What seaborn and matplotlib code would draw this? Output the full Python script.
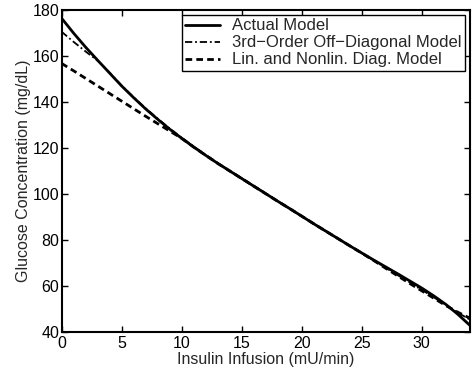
import numpy as np
import pandas as pd
import seaborn as sns
import matplotlib
matplotlib.use("Agg")
import matplotlib.pyplot as plt

# insulin infusion (mU/min)
x = [0, 1, 2, 3, 4, 5, 6, 7, 8, 9, 10, 11, 12, 13, 14, 15, 16, 17,
     18, 19, 20, 21, 22, 23, 24, 25, 26, 27, 28, 29, 30, 31, 32, 33, 34]

# glucose concentration (mg/dL)
actual = [176.5, 170.0, 163.9, 158.2, 152.6, 147.0, 141.9, 137.0, 132.5, 128.2,
          124.2, 120.4, 116.8, 113.3, 110.0, 106.7, 103.4, 100.1, 96.8, 93.6,
          90.3, 87.0, 83.8, 80.6, 77.4, 74.3, 71.2, 68.2, 65.2, 62.1,
          59.0, 55.6, 51.9, 47.6, 42.8]
offdiag = [170.6, 166.2, 162.0, 158.0, 152.8, 147.2, 142.1, 137.3, 132.8, 128.5,
           124.5, 120.7, 117.0, 113.5, 110.1, 106.8, 103.5, 100.2, 96.9, 93.6,
           90.3, 87.0, 83.8, 80.6, 77.4, 74.2, 71.0, 67.8, 64.6, 61.4,
           58.2, 55.0, 51.6, 48.3, 45.3]
diag = [156.8, 153.6, 150.3, 147.0, 143.7, 140.4, 137.1, 133.8, 130.6, 127.4,
        124.2, 120.4, 116.8, 113.3, 110.0, 106.7, 103.4, 100.1, 96.8, 93.6,
        90.3, 87.0, 83.8, 80.6, 77.4, 74.2, 71.0, 67.6, 64.3, 61.0,
        57.8, 54.6, 51.4, 48.5, 45.9]

labels = ["Actual Model", "3rd\u2212Order Off\u2212Diagonal Model", "Lin. and Nonlin. Diag. Model"]

sns.set_style("ticks")
plt.rcParams["font.family"] = ["Liberation Sans", "DejaVu Sans"]
plt.rcParams["font.size"] = 11.5

fig = plt.figure(figsize=(4.77, 3.74), dpi=100)
ax = fig.add_axes([0.129, 0.113, 0.856, 0.860])

styles = ["-", (0, (4, 1.6, 1, 1.6)), (0, (2.4, 1.5))]
widths = [2.0, 1.3, 2.0]
for ys, lab, ls, lw in zip([actual, offdiag, diag], labels, styles, widths):
    df = pd.DataFrame({"x": x, "y": ys})
    sns.lineplot(data=df, x="x", y="y", ax=ax, color="black", linestyle=ls,
                 linewidth=lw, label=lab, estimator=None, sort=False)

ax.set_xlim(0, 34)
ax.set_ylim(40, 180)
ax.set_xticks([0, 5, 10, 15, 20, 25, 30])
ax.set_yticks([40, 60, 80, 100, 120, 140, 160, 180])
ax.tick_params(direction="in", length=4, width=1, top=True, right=True,
               labelsize=11.5, colors="black")
ax.tick_params(axis="x", pad=3)
ax.tick_params(axis="y", pad=1.5)
for s in ax.spines.values():
    s.set_linewidth(1.5)
    s.set_color("black")
ax.set_xlabel("Insulin Infusion (mU/min)", fontsize=11.5, labelpad=0.5)
ax.set_ylabel("Glucose Concentration (mg/dL)", fontsize=11.5, labelpad=1)

leg = ax.legend(loc="upper right", fontsize=12, frameon=True, fancybox=False,
                edgecolor="black", framealpha=1, handlelength=2.1,
                borderaxespad=0.3, borderpad=0.2, labelspacing=0.12,
                handletextpad=0.7)
leg.get_frame().set_linewidth(1.0)

fig.savefig("out.png", dpi=100)
